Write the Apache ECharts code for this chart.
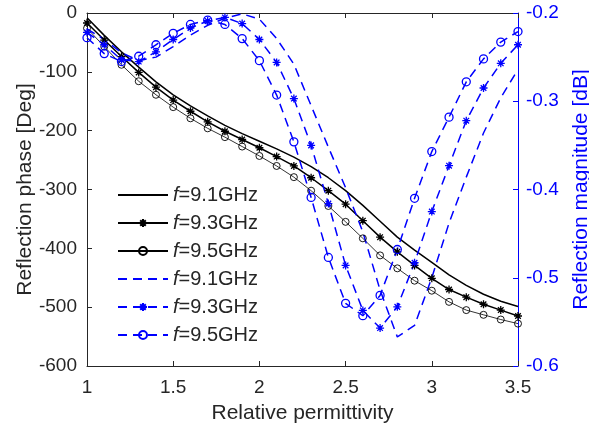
<!DOCTYPE html>
<html>
<head>
<meta charset="utf-8">
<script src="https://cdn.jsdelivr.net/npm/echarts@6/dist/echarts.min.js"></script>
<style>
  html, body { margin: 0; padding: 0; background: #fff; }
  #chart_reflect { width: 589px; height: 432px; }
</style>
</head>
<body>
<div id="chart_reflect"></div>
<script>
// relative permittivity (x)
var permittivity = [1.0, 1.1, 1.2, 1.3, 1.4, 1.5, 1.6, 1.7, 1.8, 1.9, 2.0, 2.1, 2.2,
                    2.3, 2.4, 2.5, 2.6, 2.7, 2.8, 2.9, 3.0, 3.1, 3.2, 3.3, 3.4, 3.5];

// reflection phase [Deg]
var phase91 = [-8, -38, -66, -92, -117, -139, -158, -175, -191, -205, -218, -231, -245,
               -261, -280, -302, -327, -354, -381, -403, -424, -445, -463, -478, -490, -499];
var phase93 = [-17, -46, -74, -101, -126, -148, -167, -185, -201, -215, -229, -244, -260,
               -280, -302, -325, -353, -381, -406, -429, -451, -470, -483, -495, -505, -515];
var phase95 = [-26, -57, -88, -116, -139, -160, -179, -196, -211, -227, -243, -260, -279,
               -302, -328, -355, -383, -412, -434, -455, -472, -491, -505, -513, -521, -528];

// reflection magnitude [dB]
var mag91 = [-0.218, -0.230, -0.245, -0.254, -0.250, -0.238, -0.225, -0.214, -0.206, -0.201, -0.207, -0.229, -0.258,
             -0.305, -0.352, -0.398, -0.448, -0.514, -0.567, -0.554, -0.500, -0.438, -0.386, -0.336, -0.296, -0.264];
var mag93 = [-0.222, -0.236, -0.253, -0.255, -0.244, -0.230, -0.217, -0.209, -0.205, -0.212, -0.230, -0.256, -0.297,
             -0.350, -0.416, -0.486, -0.537, -0.557, -0.533, -0.483, -0.425, -0.373, -0.322, -0.285, -0.257, -0.236];
var mag95 = [-0.228, -0.246, -0.255, -0.249, -0.236, -0.223, -0.213, -0.208, -0.213, -0.229, -0.254, -0.293, -0.346,
             -0.409, -0.477, -0.529, -0.543, -0.520, -0.468, -0.410, -0.357, -0.318, -0.278, -0.252, -0.233, -0.221];

var FONT = '"Liberation Sans", Arial, sans-serif';
var INK = '#262626';
var BLUE = '#0000ff';
var ASTERISK = 'path://M0,-5L0,5M-5,0L5,0M-3.5,-3.5L3.5,3.5M-3.5,3.5L3.5,-3.5';

function pairs(ys) {
    return permittivity.map(function (x, i) { return [x, ys[i]]; });
}

var chart_reflect = echarts.init(document.getElementById('chart_reflect'));

var option_reflect = {
    animation: false,
    backgroundColor: '#fff',
    grid: { left: 87, right: 71, top: 13, bottom: 66, containLabel: false, outerBoundsMode: 'none' },
    legend: {
        orient: 'vertical',
        left: 112,
        top: 180,
        itemWidth: 50,
        itemHeight: 10,
        itemGap: 8,
        textStyle: {
            fontFamily: FONT, fontSize: 20, color: INK, lineHeight: 20,
            rich: {
                i: { fontFamily: FONT, fontSize: 20, fontStyle: 'italic', color: INK },
                t: { fontFamily: FONT, fontSize: 20, color: INK }
            }
        },
        formatter: function (name) {
            return '{i|f}{t|' + name.trim().slice(1) + '}';
        },
        data: [
            { name: 'f=9.1GHz', itemStyle: { opacity: 0 } },
            'f=9.3GHz', 'f=9.5GHz',
            { name: 'f=9.1GHz ', itemStyle: { opacity: 0 } },
            'f=9.3GHz ', 'f=9.5GHz '
        ]
    },
    xAxis: [
        {
            type: 'value', min: 1, max: 3.5, interval: 0.5,
            name: 'Relative permittivity', nameLocation: 'middle', nameGap: 37,
            nameTextStyle: { fontFamily: FONT, fontSize: 21, color: INK },
            axisLine: { show: true, onZero: false, lineStyle: { color: INK, width: 1 } },
            axisTick: { show: true, inside: true, length: 5, lineStyle: { color: INK } },
            axisLabel: { fontFamily: FONT, fontSize: 19, color: INK, margin: 12 },
            splitLine: { show: false }
        },
        {
            type: 'value', position: 'top', min: 1, max: 3.5, interval: 0.5,
            axisLine: { show: true, onZero: false, lineStyle: { color: INK, width: 1 } },
            axisTick: { show: true, inside: true, length: 5, lineStyle: { color: INK } },
            axisLabel: { show: false },
            splitLine: { show: false }
        }
    ],
    yAxis: [
        {
            type: 'value', min: -600, max: 0, interval: 100,
            name: 'Reflection phase [Deg]', nameLocation: 'middle', nameGap: 51, nameRotate: 90,
            nameMoveOverlap: false,
            nameTextStyle: { fontFamily: FONT, fontSize: 21, color: INK },
            axisLine: { show: true, onZero: false, lineStyle: { color: INK, width: 1 } },
            axisTick: { show: true, inside: true, length: 5, lineStyle: { color: INK } },
            axisLabel: { fontFamily: FONT, fontSize: 19, color: INK, margin: 10 },
            splitLine: { show: false }
        },
        {
            type: 'value', position: 'right', min: -0.6, max: -0.2, interval: 0.1,
            name: 'Reflection magnitude [dB]', nameLocation: 'middle', nameGap: 53, nameRotate: 90,
            nameTextStyle: { fontFamily: FONT, fontSize: 21, color: BLUE },
            axisLine: { show: true, onZero: false, lineStyle: { color: BLUE, width: 1 } },
            axisTick: { show: true, inside: true, length: 5, lineStyle: { color: BLUE } },
            axisLabel: { fontFamily: FONT, fontSize: 19, color: BLUE, margin: 8,
                         formatter: function (v) { return v.toFixed(1); } },
            splitLine: { show: false }
        }
    ],
    series: [
        {
            name: 'f=9.1GHz', type: 'line', yAxisIndex: 0,
            data: pairs(phase91), symbol: 'none',
            lineStyle: { color: '#000', width: 1.5 },
            itemStyle: { color: '#000' }
        },
        {
            name: 'f=9.3GHz', type: 'line', yAxisIndex: 0,
            data: pairs(phase93), symbol: ASTERISK, symbolSize: 8,
            lineStyle: { color: '#000', width: 1.5 },
            itemStyle: { color: '#000', borderColor: '#000', borderWidth: 1.3 }
        },
        {
            name: 'f=9.5GHz', type: 'line', yAxisIndex: 0,
            data: pairs(phase95), symbol: 'circle', symbolSize: 7,
            lineStyle: { color: '#000', width: 0.8 },
            itemStyle: { color: 'rgba(0,0,0,0)', borderColor: '#000', borderWidth: 0.9 }
        },
        {
            name: 'f=9.1GHz ', type: 'line', yAxisIndex: 1,
            data: pairs(mag91), symbol: 'none',
            lineStyle: { color: BLUE, width: 1.5, type: [9, 6] },
            itemStyle: { color: BLUE }
        },
        {
            name: 'f=9.3GHz ', type: 'line', yAxisIndex: 1,
            data: pairs(mag93), symbol: ASTERISK, symbolSize: 8,
            lineStyle: { color: BLUE, width: 1.5, type: [9, 6] },
            itemStyle: { color: BLUE, borderColor: BLUE, borderWidth: 1.3 }
        },
        {
            name: 'f=9.5GHz ', type: 'line', yAxisIndex: 1,
            data: pairs(mag95), symbol: 'circle', symbolSize: 8,
            lineStyle: { color: BLUE, width: 1.5, type: [9, 6] },
            itemStyle: { color: 'rgba(0,0,0,0)', borderColor: BLUE, borderWidth: 1.3 }
        }
    ]
};

chart_reflect.setOption(option_reflect);
</script>
</body>
</html>
